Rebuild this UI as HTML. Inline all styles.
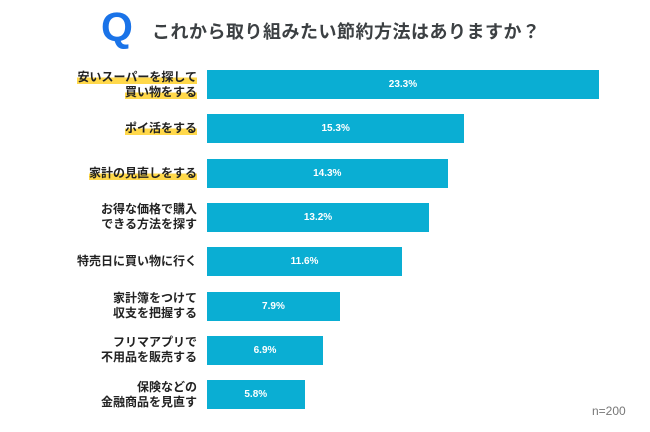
<!DOCTYPE html>
<html><head><meta charset="utf-8"><style>
body{margin:0;background:#fff;width:650px;height:432px;overflow:hidden;font-family:"Liberation Sans","Noto Sans CJK JP",sans-serif;position:relative}
.q{position:absolute;left:101px;top:4px;font-size:41px;font-weight:bold;color:#1a73e8}
.title{position:absolute;left:152px;top:18px;font-size:18px;font-weight:bold;color:#3c4043;letter-spacing:0.5px}
.lbl{position:absolute;right:453px;font-size:12px;font-weight:bold;color:#222;text-align:right;line-height:15px;white-space:nowrap}
.hl{background:linear-gradient(transparent 55%,#ffd84a 55%)}
.bar{position:absolute;left:207px;height:29px;background:#0aaed3}
.val{position:absolute;font-size:10px;font-weight:bold;color:#fff;transform:translateX(-50%)}
.n{position:absolute;left:592px;top:404px;font-size:12px;color:#777}
</style></head><body>
<div class="q">Q</div>
<div class="title">これから取り組みたい節約方法はありますか？</div>
<div id="chart"></div>
<div class="n">n=200</div>
<script>
const categories=[["安いスーパーを探して","買い物をする"],["ポイ活をする"],["家計の見直しをする"],["お得な価格で購入","できる方法を探す"],["特売日に買い物に行く"],["家計簿をつけて","収支を把握する"],["フリマアプリで","不用品を販売する"],["保険などの","金融商品を見直す"]];
const values=[23.3,15.3,14.3,13.2,11.6,7.9,6.9,5.8];
const highlighted=[true,true,true,false,false,false,false,false];
const chart=document.getElementById('chart');
const x=v=>v*16.82, y=i=>70+i*44.3;
values.forEach((v,i)=>{
  const b=document.createElement('div');b.className='bar';
  
  
  b.style.top=y(i)+'px';b.style.width=x(v)+'px';chart.appendChild(b);
  const t=document.createElement('div');t.className='val';
  
  
  t.textContent=v.toFixed(1)+'%';t.style.left=(207+x(v)/2)+'px';t.style.top=(y(i)+9)+'px';chart.appendChild(t);
  const l=document.createElement('div');l.className='lbl';
  
  
  const lines=categories[i];
  l.innerHTML=lines.map(s=>highlighted[i]?'<span class="hl">'+s+'</span>':s).join('<br>');
  l.style.top=(y(i)+14.5-lines.length*7.5)+'px';chart.appendChild(l);
});
</script>
</body></html>
